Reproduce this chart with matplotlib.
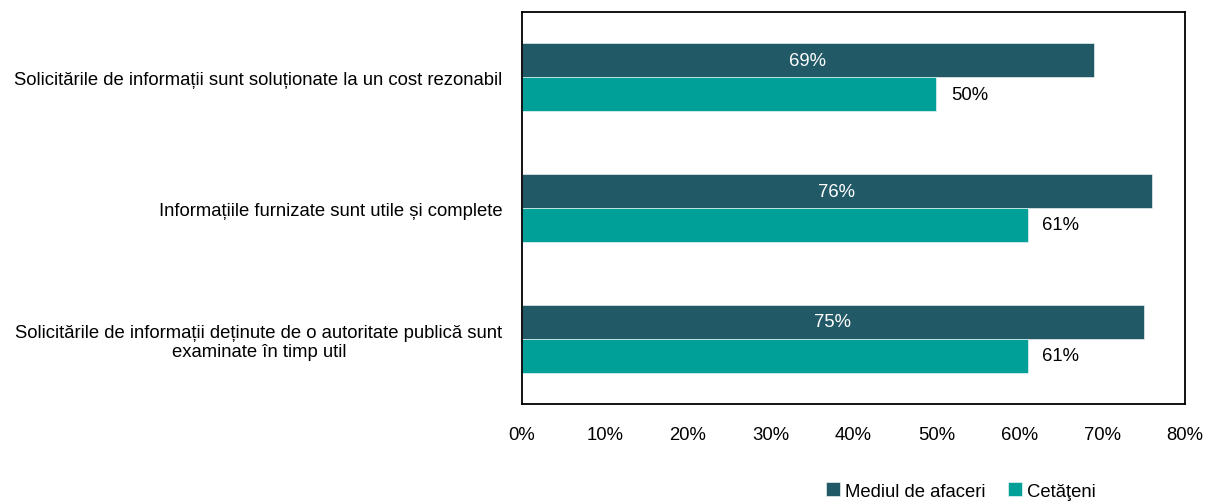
import matplotlib.pyplot as plt
import numpy as np

plt.rcParams['font.family'] = ['Liberation Sans', 'DejaVu Sans']

categories = [
    "Solicitările de informații sunt soluționate la un cost rezonabil",
    "Informațiile furnizate sunt utile și complete",
    "Solicitările de informații deținute de o autoritate publică sunt\nexaminate în timp util",
]
afaceri = [69, 76, 75]
cetateni = [50, 61, 61]
series_names = ["Mediul de afaceri", "Cetăţeni"]

dark = "#225966"
teal = "#00a098"
fs = 13.3

fig = plt.figure(figsize=(12.05, 5.02), dpi=100)
ax = fig.add_axes([522 / 1205, 1 - 405 / 502, 663 / 1205, 392 / 502])

y = np.arange(len(categories))
h = 0.26
b1 = ax.barh(y - h / 2, afaceri, height=h, color=dark, edgecolor="white",
             linewidth=0.4, label=series_names[0])
b2 = ax.barh(y + h / 2, cetateni, height=h, color=teal, edgecolor="white",
             linewidth=0.4, label=series_names[1])

for bar, v in zip(b1, afaceri):
    ax.text(bar.get_width() / 2, bar.get_y() + bar.get_height() / 2, f"{v}%",
            ha="center", va="center", color="white", fontsize=fs)
for bar, v in zip(b2, cetateni):
    ax.text(bar.get_width() + 1.8, bar.get_y() + bar.get_height() / 2, f"{v}%",
            ha="left", va="center", color="black", fontsize=fs)

ax.set_xlim(0, 80)
ax.set_ylim(2.5, -0.5)
ax.set_xticks(range(0, 81, 10))
ax.set_xticklabels([f"{t}%" for t in range(0, 81, 10)], fontsize=fs)
ax.set_yticks(y)
ax.set_yticklabels(categories, fontsize=fs, ha="right", multialignment="center")
ax.tick_params(axis="both", length=0)
ax.tick_params(axis="x", pad=16)
ax.tick_params(axis="y", pad=14)

for s in ax.spines.values():
    s.set_color("black")
    s.set_linewidth(1.3)

fig.legend(handles=[b1, b2], labels=series_names, loc="center", ncol=2,
           bbox_to_anchor=(961 / 1205, 1 - 492 / 502), frameon=False,
           fontsize=fs, handlelength=0.75, handleheight=0.75, handletextpad=0.3,
           columnspacing=1.2, borderaxespad=0)

fig.savefig("out.png", dpi=100)
